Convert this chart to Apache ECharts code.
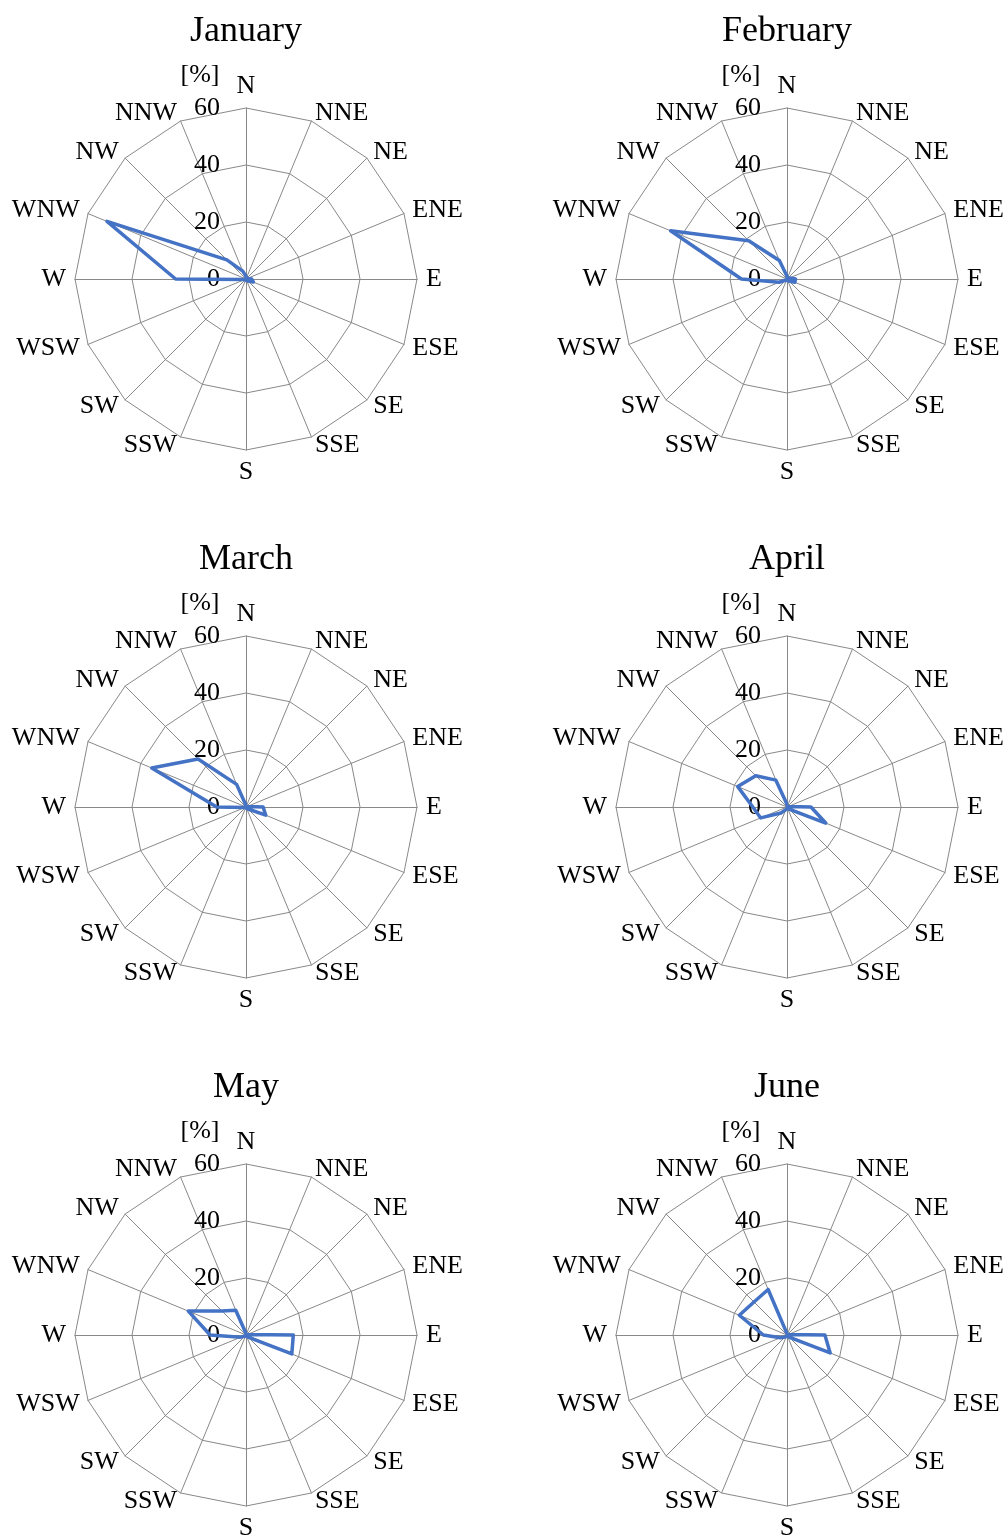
<!DOCTYPE html>
<html>
<head>
<meta charset="utf-8">
<script src="https://cdn.jsdelivr.net/npm/echarts@6/dist/echarts.min.js"></script>
<style>
html, body { margin: 0; padding: 0; background: #fff; }
#chart { width: 1008px; height: 1539px; }
</style>
</head>
<body>
<div id="chart"></div>
<script>
// Wind direction frequency [%] per month, compass order starting at N, going clockwise
const directions = ['N', 'NNE', 'NE', 'ENE', 'E', 'ESE', 'SE', 'SSE', 'S', 'SSW', 'SW', 'WSW', 'W', 'WNW', 'NW', 'NNW'];
const months = ['January', 'February', 'March', 'April', 'May', 'June'];
const january  = [1.0, 0.5, 0.5, 0.5, 2.0, 2.8, 1.0, 0.5, 0.5, 0.3, 0.3, 0.5, 24.7, 52.8, 9.5, 3.0];
const february = [1.0, 0.5, 0.5, 1.0, 3.0, 3.0, 1.0, 0.5, 0.5, 0.5, 0.5, 3.0, 16.0, 44.2, 19.0, 7.0];
const march    = [0.5, 0.3, 0.3, 0.5, 6.0, 7.5, 1.0, 0.5, 0.3, 0.3, 0.3, 0.5, 10.3, 35.8, 23.8, 8.6];
const april    = [1.0, 0.3, 0.3, 0.5, 8.4, 14.7, 1.0, 0.5, 0.5, 1.0, 3.0, 10.0, 12.0, 18.7, 15.5, 10.2];
const may      = [0.5, 0.3, 0.3, 0.5, 16.6, 17.4, 1.0, 0.5, 0.3, 0.5, 0.5, 2.0, 12.6, 21.9, 11.9, 9.4];
const june     = [0.5, 0.3, 0.3, 0.5, 13.3, 16.4, 1.0, 0.5, 0.3, 0.5, 1.0, 2.5, 8.3, 18.1, 16.4, 17.3];
const monthValues = [january, february, march, april, may, june];
const radialMax = 60;
const radialStep = 20;
const unitLabel = '[%]';

const FONT = 'Liberation Serif';
const GRID = '#898989';
const LINE = '#4472C4';

// Radar indicators run counter-clockwise from the top, so walk the compass backwards
const ccwOrder = [0].concat(directions.map((d, i) => i).slice(1).reverse());

const colX = [246, 787];
const rowY = [279, 807, 1335];
const R = 171;

const radars = [];
const series = [];
const titles = [];

months.forEach((m, k) => {
  const cx = colX[k % 2];
  const cy = rowY[Math.floor(k / 2)];
  radars.push({
    center: [cx, cy],
    radius: R,
    startAngle: 90,
    shape: 'polygon',
    splitNumber: radialMax / radialStep,
    nameGap: 9,
    axisName: { color: '#000', fontFamily: FONT, fontSize: 26 },
    axisLine: { lineStyle: { color: GRID, width: 1 } },
    splitLine: { lineStyle: { color: GRID, width: 1 } },
    splitArea: { show: false },
    axisTick: { show: false },
    axisLabel: { show: false },
    indicator: ccwOrder.map((idx, j) => {
      const ind = { name: directions[idx], min: 0, max: radialMax };
      if (j === 0) {
        ind.axisLabel = {
          show: true, color: '#000', fontFamily: FONT, fontSize: 26, margin: 26,
          showMinLabel: true, showMaxLabel: true
        };
      }
      return ind;
    })
  });
  series.push({
    type: 'radar',
    radarIndex: k,
    symbol: 'none',
    silent: true,
    lineStyle: { color: LINE, width: 3.5 },
    data: [{ value: ccwOrder.map(idx => monthValues[k][idx]), name: m }]
  });
  titles.push({
    text: m,
    left: cx - 5,
    top: cy - 270,
    textAlign: 'center',
    textStyle: { fontFamily: FONT, fontSize: 36, fontWeight: 'normal', color: '#000' }
  });
  titles.push({
    text: unitLabel,
    left: cx - 51,
    top: cy - 222,
    textAlign: 'center',
    textStyle: { fontFamily: FONT, fontSize: 26, fontWeight: 'normal', color: '#000' }
  });
});

const chart = echarts.init(document.getElementById('chart'), null, { renderer: 'canvas' });
chart.setOption({
  backgroundColor: '#fff',
  animation: false,
  title: titles,
  radar: radars,
  series: series
});
</script>
</body>
</html>
